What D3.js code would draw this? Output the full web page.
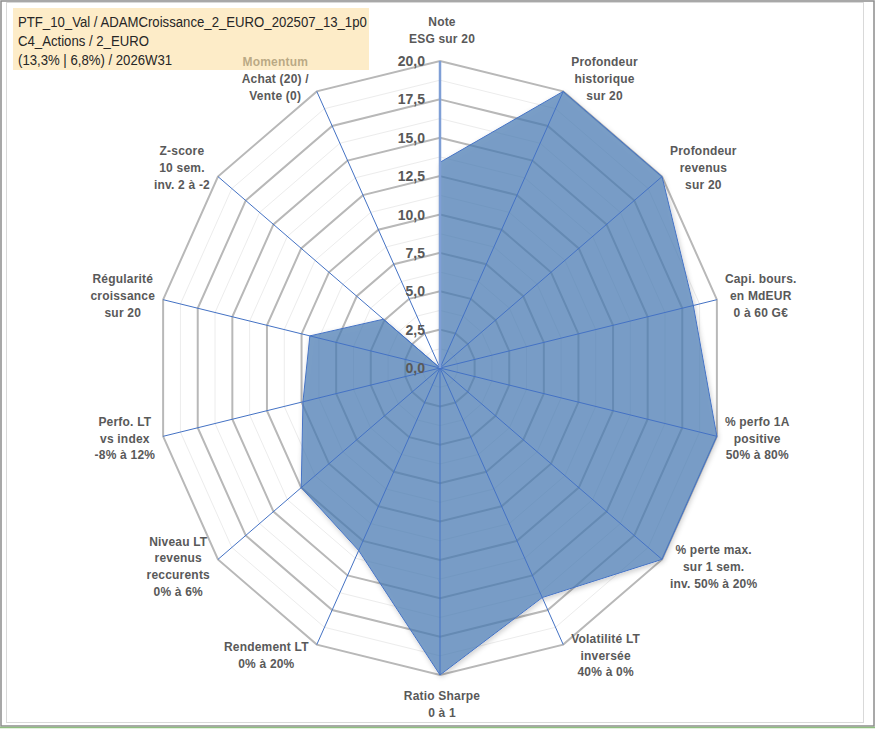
<!DOCTYPE html>
<html>
<head>
<meta charset="utf-8">
<script src="https://cdn.jsdelivr.net/npm/d3@7"></script>
<style>
  html, body { margin: 0; padding: 0; background: #fff; }
  svg { display: block; }
</style>
</head>
<body>
<div id="showBox"></div>
<script>
// axes of the radar, clockwise from the top
const categories = [
    ["Note", "ESG sur 20"],
    ["Profondeur", "historique", "sur 20"],
    ["Profondeur", "revenus", "sur 20"],
    ["Capi. bours.", "en MdEUR", "0 à 60 G€"],
    ["% perfo 1A", "positive", "50% à 80%"],
    ["% perte max.", "sur 1 sem.", "inv. 50% à 20%"],
    ["Volatilité LT", "inversée", "40% à 0%"],
    ["Ratio Sharpe", "0 à 1"],
    ["Rendement LT", "0% à 20%"],
    ["Niveau LT", "revenus", "reccurents", "0% à 6%"],
    ["Perfo. LT", "vs index", "-8% à 12%"],
    ["Régularité", "croissance", "sur 20"],
    ["Z-score", "10 sem.", "inv. 2 à -2"],
    ["Momentum", "Achat (20) /", "Vente (0)"]
];
const values = [13.4, 20, 20, 18.3, 20, 20, 16.6, 20, 13.2, 12.5, 9.9, 9.4, 5.1, 0];
const majorTicks = [0, 2.5, 5, 7.5, 10, 12.5, 15, 17.5, 20];
const minorTicks = [1.25, 3.75, 6.25, 8.75, 11.25, 13.75, 16.25, 18.75];
const titleLines = [
    "PTF_10_Val / ADAMCroissance_2_EURO_202507_13_1p0",
    "C4_Actions / 2_EURO",
    "(13,3% | 6,8%) / 2026W31"
];

const width = 875, height = 729;
const cx = 440, cy = 368;
const textColor = "#595959";
const fr = d3.formatLocale({decimal: ",", thousands: " ", grouping: [3], currency: ["", "€"]});
const fmt = fr.format(".1f");

// the picture is a little taller than wide, so one scale per direction
const rx = d3.scaleLinear().domain([0, 20]).range([0, 284]);
const ry = d3.scaleLinear().domain([0, 20]).range([0, 307]);
const angle = d3.scaleLinear().domain([0, categories.length]).range([0, 2 * Math.PI]);

function pt(v, i) {
    const a = angle(i);
    return [cx + rx(v) * Math.sin(a), cy - ry(v) * Math.cos(a)];
}

function ring(v) {
    return d3.line()(categories.map((c, i) => pt(v, i))) + "Z";
}

const svg = d3.select("#showBox").append("svg")
    .attr("width", width)
    .attr("height", height)
    .attr("font-family", "Liberation Sans, Arial, sans-serif");

// soft shadow that stays outside the (transparent) area
const f = svg.append("defs").append("filter").attr("id", "shadow")
    .attr("x", "-10%").attr("y", "-10%").attr("width", "120%").attr("height", "120%");
f.append("feGaussianBlur").attr("in", "SourceAlpha").attr("stdDeviation", 2.5).attr("result", "blur");
f.append("feOffset").attr("in", "blur").attr("dx", 1).attr("dy", 2).attr("result", "off");
f.append("feComposite").attr("in", "off").attr("in2", "SourceAlpha").attr("operator", "out").attr("result", "outer");
f.append("feFlood").attr("flood-color", "#000").attr("flood-opacity", 0.25).attr("result", "col");
f.append("feComposite").attr("in", "col").attr("in2", "outer").attr("operator", "in").attr("result", "shadow");
const fm = f.append("feMerge");
fm.append("feMergeNode").attr("in", "shadow");
fm.append("feMergeNode").attr("in", "SourceGraphic");

// frames
svg.append("rect").attr("x", 1).attr("y", 1).attr("width", 873).attr("height", 725)
    .attr("fill", "none").attr("stroke", "#8c8c8c").attr("stroke-width", 1.5);
svg.append("rect").attr("x", 6.5).attr("y", 2.5).attr("width", 857).attr("height", 720)
    .attr("fill", "none").attr("stroke", "#d9d9d9").attr("stroke-width", 1);
svg.append("line").attr("x1", 0).attr("x2", width).attr("y1", 727.5).attr("y2", 727.5)
    .attr("stroke", "#8fbf7f").attr("stroke-width", 1.5);

// grid
svg.append("g").selectAll("path").data(minorTicks).join("path")
    .attr("d", d => ring(d))
    .attr("fill", "none").attr("stroke", "#ececec").attr("stroke-width", 1);
svg.append("g").selectAll("path").data(majorTicks.filter(d => d > 0)).join("path")
    .attr("d", d => ring(d))
    .attr("fill", "none").attr("stroke", "#b8b8b8").attr("stroke-width", 2);

// series
svg.append("path")
    .attr("d", d3.line()(values.map((v, i) => pt(v, i))) + "Z")
    .attr("fill", "#4a7ab3").attr("fill-opacity", 0.72)
    .attr("stroke", "#4472c4").attr("stroke-width", 1)
    .attr("filter", "url(#shadow)");

// spokes
svg.append("g").selectAll("line").data(categories.slice(1)).join("line")
    .attr("x1", cx).attr("y1", cy)
    .attr("x2", (d, i) => pt(20, i + 1)[0])
    .attr("y2", (d, i) => pt(20, i + 1)[1])
    .attr("stroke", "#4472c4").attr("stroke-width", 1);
svg.append("line")
    .attr("x1", cx).attr("y1", cy)
    .attr("x2", pt(20, 0)[0]).attr("y2", pt(20, 0)[1])
    .attr("stroke", "#7f9fd6").attr("stroke-width", 2.5);

// value axis labels
svg.append("g").selectAll("text").data(majorTicks).join("text")
    .attr("x", cx - 15)
    .attr("y", d => pt(d, 0)[1])
    .attr("dy", "0.36em")
    .attr("text-anchor", "end")
    .attr("font-size", 14).attr("font-weight", "bold")
    .attr("fill", textColor)
    .text(d => fmt(d));

// category labels, pushed out of the outer vertex
const lineH = 16.8;
const labels = svg.append("g")
    .attr("font-size", 12).attr("font-weight", "bold")
    .attr("letter-spacing", 0.2)
    .attr("fill", textColor)
    .attr("text-anchor", "middle");

categories.forEach((lines, i) => {
    const a = angle(i);
    const s = Math.sin(a), c = Math.cos(a);
    const [vx, vy] = pt(20, i);
    const t = labels.append("text");
    lines.forEach((l, k) => {
        t.append("tspan").attr("x", 0).attr("y", k * lineH).text(l);
    });
    const w = d3.max(t.selectAll("tspan").nodes(), n => n.getComputedTextLength());
    const h = lines.length * lineH;
    let ox, oy;
    if (Math.abs(s) < 0.1) {
        ox = 2;
        oy = -c * (h / 2 + 13);
    } else {
        ox = Math.sign(s) * (w / 2 + 8);
        oy = -c * 13;
    }
    const lx = vx + ox, ly = vy + oy - h / 2 + lineH * 0.7;
    t.attr("transform", `translate(${lx},${ly})`);
});

// title box, drawn over the top left label
const title = svg.append("g");
title.append("rect")
    .attr("x", 13).attr("y", 8).attr("width", 356).attr("height", 62)
    .attr("fill", "#fcdfa3").attr("fill-opacity", 0.6);
const titleText = title.append("g");
titleText.selectAll("text").data(titleLines).join("text")
    .attr("x", 0)
    .attr("y", (d, i) => 27.5 + i * 18.6)
    .attr("font-family", "Liberation Sans, Arial, sans-serif")
    .attr("font-size", 15.5)
    .attr("fill", "#262626")
    .text(d => d);
// Calibri is narrower than what is installed: squeeze to the reference width
const tw = d3.max(titleText.selectAll("text").nodes(), n => n.getComputedTextLength());
titleText.attr("transform", `translate(18,0) scale(${349 / tw},1)`);
</script>
</body>
</html>
